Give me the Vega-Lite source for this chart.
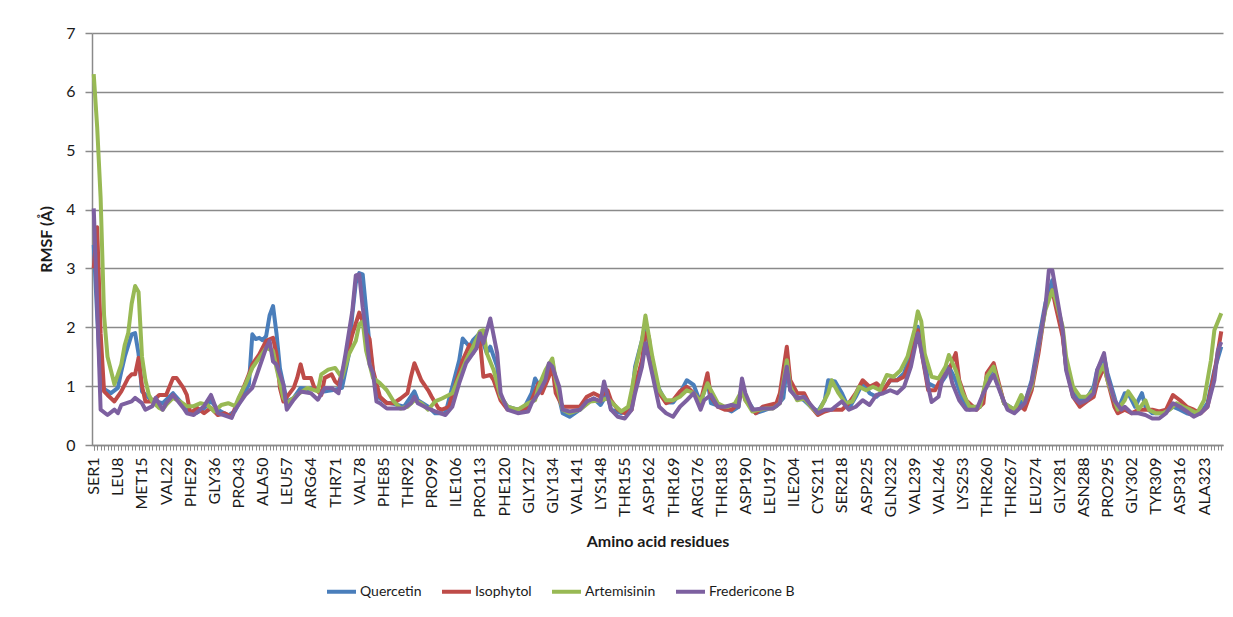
{
  "$schema": "https://vega.github.io/schema/vega-lite/v6.json",
  "width": 1131,
  "height": 412,
  "autosize": "none",
  "padding": {"left": 92, "top": 33, "right": 10, "bottom": 172},
  "background": "white",
  "config": {
    "view": {"stroke": null},
    "font": "Lato",
    "axis": {"labelFont": "Lato", "titleFont": "Lato", "labelColor": "#1a1a1a", "titleColor": "#1a1a1a"}
  },
  "encoding": {
    "y": {
      "field": "v",
      "type": "quantitative",
      "scale": {"domain": [0, 7], "nice": false, "zero": true},
      "axis": {
        "title": "RMSF (Å)",
        "titleFontSize": 16,
        "titleFontWeight": "bold",
        "titleX": -46,
        "titleBaseline": "middle",
        "values": [0, 1, 2, 3, 4, 5, 6, 7],
        "labelFontSize": 16,
        "labelPadding": 10,
        "tickSize": 7,
        "tickColor": "#8a8a8a",
        "tickWidth": 1.5,
        "domainColor": "#8a8a8a",
        "domainWidth": 1.5,
        "grid": true,
        "gridColor": "#8a8a8a",
        "gridWidth": 1.5
      }
    }
  },
  "layer": [
    {
      "data": {"values": [
        {"r":1,"v":3.4},{"r":2,"v":2.2},{"r":3,"v":1.1},{"r":4,"v":0.95},{"r":6,"v":0.88},{"r":8,"v":0.97},{"r":9,"v":1.25},{"r":10,"v":1.5},{"r":12,"v":1.88},{"r":13,"v":1.9},{"r":14,"v":1.55},{"r":15,"v":0.91},{"r":17,"v":0.8},{"r":19,"v":0.74},{"r":21,"v":0.71},{"r":24,"v":0.88},{"r":27,"v":0.68},{"r":29,"v":0.55},{"r":31,"v":0.55},{"r":33,"v":0.62},{"r":35,"v":0.75},{"r":37,"v":0.6},{"r":40,"v":0.5},{"r":42,"v":0.58},{"r":44,"v":0.8},{"r":46,"v":1.03},{"r":47,"v":1.88},{"r":48,"v":1.8},{"r":49,"v":1.82},{"r":50,"v":1.78},{"r":51,"v":1.85},{"r":52,"v":2.2},{"r":53,"v":2.36},{"r":54,"v":1.9},{"r":55,"v":1.3},{"r":56,"v":1.03},{"r":57,"v":0.74},{"r":59,"v":0.8},{"r":61,"v":0.97},{"r":63,"v":0.95},{"r":65,"v":0.97},{"r":67,"v":0.9},{"r":69,"v":0.92},{"r":71,"v":0.94},{"r":73,"v":0.97},{"r":75,"v":1.54},{"r":76,"v":2.22},{"r":77,"v":2.75},{"r":78,"v":2.92},{"r":79,"v":2.9},{"r":80,"v":2.3},{"r":81,"v":1.7},{"r":82,"v":1.22},{"r":84,"v":0.79},{"r":86,"v":0.72},{"r":88,"v":0.7},{"r":91,"v":0.65},{"r":94,"v":0.91},{"r":95,"v":0.76},{"r":98,"v":0.65},{"r":100,"v":0.54},{"r":103,"v":0.54},{"r":105,"v":0.99},{"r":107,"v":1.44},{"r":108,"v":1.81},{"r":110,"v":1.67},{"r":111,"v":1.78},{"r":113,"v":1.9},{"r":115,"v":1.56},{"r":116,"v":1.67},{"r":118,"v":1.33},{"r":119,"v":0.82},{"r":121,"v":0.65},{"r":124,"v":0.6},{"r":126,"v":0.65},{"r":128,"v":0.88},{"r":129,"v":1.13},{"r":131,"v":0.93},{"r":132,"v":1.22},{"r":134,"v":1.42},{"r":135,"v":1.05},{"r":137,"v":0.54},{"r":139,"v":0.48},{"r":142,"v":0.6},{"r":144,"v":0.71},{"r":146,"v":0.79},{"r":148,"v":0.68},{"r":150,"v":0.88},{"r":151,"v":0.6},{"r":154,"v":0.54},{"r":156,"v":0.6},{"r":157,"v":0.76},{"r":158,"v":1.33},{"r":160,"v":1.78},{"r":161,"v":2.07},{"r":162,"v":1.7},{"r":163,"v":1.3},{"r":165,"v":0.95},{"r":167,"v":0.72},{"r":169,"v":0.72},{"r":171,"v":0.88},{"r":173,"v":1.1},{"r":175,"v":1.02},{"r":177,"v":0.71},{"r":179,"v":1.1},{"r":180,"v":0.71},{"r":183,"v":0.65},{"r":186,"v":0.57},{"r":188,"v":0.65},{"r":189,"v":1.05},{"r":190,"v":0.82},{"r":193,"v":0.54},{"r":196,"v":0.6},{"r":199,"v":0.66},{"r":201,"v":0.8},{"r":202,"v":1.33},{"r":203,"v":0.93},{"r":205,"v":0.82},{"r":207,"v":0.76},{"r":209,"v":0.65},{"r":211,"v":0.57},{"r":213,"v":0.76},{"r":214,"v":1.1},{"r":216,"v":1.08},{"r":218,"v":0.88},{"r":220,"v":0.62},{"r":222,"v":0.82},{"r":224,"v":1.05},{"r":226,"v":0.88},{"r":228,"v":0.82},{"r":230,"v":0.93},{"r":232,"v":1.1},{"r":234,"v":1.1},{"r":236,"v":1.22},{"r":238,"v":1.56},{"r":240,"v":2.01},{"r":241,"v":1.8},{"r":242,"v":1.5},{"r":243,"v":1.05},{"r":245,"v":0.99},{"r":246,"v":0.99},{"r":248,"v":1.16},{"r":249,"v":1.33},{"r":251,"v":1.1},{"r":253,"v":0.76},{"r":255,"v":0.6},{"r":258,"v":0.65},{"r":260,"v":1.1},{"r":262,"v":1.33},{"r":263,"v":1.1},{"r":265,"v":0.71},{"r":268,"v":0.6},{"r":270,"v":0.74},{"r":271,"v":0.71},{"r":273,"v":1.1},{"r":275,"v":1.78},{"r":277,"v":2.41},{"r":279,"v":2.8},{"r":280,"v":2.52},{"r":282,"v":1.9},{"r":283,"v":1.33},{"r":285,"v":0.88},{"r":287,"v":0.76},{"r":289,"v":0.79},{"r":291,"v":0.99},{"r":292,"v":1.27},{"r":294,"v":1.5},{"r":295,"v":1.22},{"r":297,"v":0.82},{"r":298,"v":0.6},{"r":300,"v":0.88},{"r":301,"v":0.88},{"r":303,"v":0.65},{"r":305,"v":0.88},{"r":306,"v":0.65},{"r":308,"v":0.54},{"r":310,"v":0.54},{"r":312,"v":0.57},{"r":314,"v":0.65},{"r":316,"v":0.6},{"r":318,"v":0.54},{"r":320,"v":0.51},{"r":322,"v":0.54},{"r":324,"v":0.71},{"r":326,"v":1.27},{"r":328,"v":1.67}
      ]},
      "mark": {"type": "line", "strokeWidth": 4, "strokeJoin": "round"},
      "encoding": {
        "x": {
          "field": "r", "type": "quantitative",
          "scale": {"domain": [0.5, 328.5], "nice": false, "zero": false},
          "axis": {
            "orient": "bottom",
            "title": "Amino acid residues",
            "titleFontSize": 16,
            "titleFontWeight": "bold",
            "titleY": 88,
            "titleBaseline": "top",
            "values": [1,8,15,22,29,36,43,50,57,64,71,78,85,92,99,106,113,120,127,134,141,148,155,162,169,176,183,190,197,204,211,218,225,232,239,246,253,260,267,274,281,288,295,302,309,316,323],
            "labelExpr": "['SER1','LEU8','MET15','VAL22','PHE29','GLY36','PRO43','ALA50','LEU57','ARG64','THR71','VAL78','PHE85','THR92','PRO99','ILE106','PRO113','PHE120','GLY127','GLY134','VAL141','LYS148','THR155','ASP162','THR169','ARG176','THR183','ASP190','LEU197','ILE204','CYS211','SER218','ASP225','GLN232','VAL239','VAL246','LYS253','THR260','THR267','LEU274','GLY281','ASN288','PRO295','GLY302','TYR309','ASP316','ALA323'][round((datum.value-1)/7)]",
            "labelAngle": 270,
            "labelFontSize": 16,
            "labelPadding": 7,
            "labelOverlap": false,
            "labelFlush": false,
            "tickSize": 5,
            "tickColor": "#8a8a8a",
            "domainColor": "#8a8a8a",
            "domainWidth": 1.5,
            "grid": false
          }
        },
        "color": {
          "datum": "Quercetin", "type": "nominal",
          "scale": {"domain": ["Quercetin", "Isophytol", "Artemisinin", "Fredericone B"], "range": ["#4A7EBB", "#BE4B48", "#98B954", "#7D60A0"]},
          "legend": {
            "title": null,
            "orient": "none",
            "direction": "horizontal",
            "legendX": 233,
            "legendY": 542,
            "symbolType": "stroke",
            "symbolSize": 840,
            "symbolStrokeWidth": 4,
            "labelFont": "Lato",
            "labelFontSize": 14,
            "labelColor": "#1a1a1a",
            "labelOffset": 2,
            "columnPadding": 12
          }
        }
      }
    },
    {
      "data": {"values": [
        {"r":1,"v":3.0},{"r":2,"v":3.7},{"r":3,"v":1.9},{"r":4,"v":0.91},{"r":5,"v":0.85},{"r":7,"v":0.74},{"r":9,"v":0.91},{"r":11,"v":1.14},{"r":12,"v":1.2},{"r":13,"v":1.2},{"r":14,"v":1.48},{"r":15,"v":1.0},{"r":16,"v":0.74},{"r":18,"v":0.74},{"r":20,"v":0.85},{"r":22,"v":0.85},{"r":24,"v":1.14},{"r":25,"v":1.14},{"r":27,"v":0.97},{"r":28,"v":0.85},{"r":29,"v":0.54},{"r":31,"v":0.63},{"r":33,"v":0.54},{"r":35,"v":0.63},{"r":37,"v":0.51},{"r":39,"v":0.54},{"r":41,"v":0.48},{"r":42,"v":0.63},{"r":44,"v":0.91},{"r":46,"v":1.2},{"r":47,"v":1.37},{"r":49,"v":1.54},{"r":51,"v":1.77},{"r":53,"v":1.82},{"r":54,"v":1.54},{"r":55,"v":0.97},{"r":56,"v":0.74},{"r":59,"v":0.97},{"r":60,"v":1.14},{"r":61,"v":1.37},{"r":62,"v":1.14},{"r":64,"v":1.14},{"r":65,"v":0.97},{"r":67,"v":0.85},{"r":68,"v":1.14},{"r":70,"v":1.2},{"r":71,"v":1.08},{"r":72,"v":1.03},{"r":74,"v":1.42},{"r":76,"v":1.88},{"r":78,"v":2.25},{"r":79,"v":2.1},{"r":80,"v":1.9},{"r":81,"v":1.8},{"r":82,"v":1.27},{"r":84,"v":0.82},{"r":86,"v":0.71},{"r":88,"v":0.71},{"r":90,"v":0.79},{"r":92,"v":0.88},{"r":93,"v":1.16},{"r":94,"v":1.39},{"r":96,"v":1.1},{"r":98,"v":0.93},{"r":99,"v":0.82},{"r":101,"v":0.62},{"r":102,"v":0.6},{"r":104,"v":0.65},{"r":106,"v":1.05},{"r":108,"v":1.44},{"r":110,"v":1.7},{"r":111,"v":1.56},{"r":113,"v":1.78},{"r":114,"v":1.16},{"r":116,"v":1.19},{"r":117,"v":1.1},{"r":119,"v":0.76},{"r":121,"v":0.6},{"r":124,"v":0.6},{"r":127,"v":0.62},{"r":128,"v":0.76},{"r":130,"v":1.05},{"r":131,"v":0.88},{"r":133,"v":1.16},{"r":134,"v":1.33},{"r":135,"v":0.88},{"r":137,"v":0.65},{"r":140,"v":0.65},{"r":142,"v":0.65},{"r":144,"v":0.82},{"r":146,"v":0.88},{"r":148,"v":0.82},{"r":150,"v":0.93},{"r":151,"v":0.76},{"r":153,"v":0.6},{"r":155,"v":0.54},{"r":157,"v":0.6},{"r":158,"v":0.99},{"r":160,"v":1.44},{"r":161,"v":1.9},{"r":162,"v":1.84},{"r":163,"v":1.27},{"r":165,"v":0.88},{"r":167,"v":0.71},{"r":169,"v":0.76},{"r":171,"v":0.91},{"r":173,"v":0.99},{"r":175,"v":0.88},{"r":177,"v":0.74},{"r":179,"v":1.22},{"r":180,"v":0.82},{"r":182,"v":0.65},{"r":184,"v":0.6},{"r":186,"v":0.6},{"r":188,"v":0.71},{"r":189,"v":0.99},{"r":190,"v":0.76},{"r":193,"v":0.54},{"r":195,"v":0.65},{"r":197,"v":0.68},{"r":199,"v":0.71},{"r":200,"v":0.88},{"r":202,"v":1.67},{"r":203,"v":1.1},{"r":205,"v":0.88},{"r":207,"v":0.88},{"r":209,"v":0.65},{"r":211,"v":0.51},{"r":213,"v":0.57},{"r":215,"v":0.6},{"r":216,"v":0.6},{"r":218,"v":0.6},{"r":220,"v":0.71},{"r":222,"v":0.88},{"r":224,"v":1.1},{"r":226,"v":0.99},{"r":228,"v":1.05},{"r":230,"v":0.93},{"r":232,"v":1.1},{"r":234,"v":1.1},{"r":236,"v":1.16},{"r":238,"v":1.44},{"r":240,"v":1.95},{"r":242,"v":1.27},{"r":243,"v":0.93},{"r":245,"v":0.93},{"r":247,"v":1.16},{"r":249,"v":1.27},{"r":251,"v":1.56},{"r":252,"v":1.1},{"r":254,"v":0.76},{"r":257,"v":0.6},{"r":259,"v":0.71},{"r":260,"v":1.22},{"r":262,"v":1.39},{"r":263,"v":1.16},{"r":265,"v":0.71},{"r":268,"v":0.57},{"r":270,"v":0.65},{"r":271,"v":0.6},{"r":273,"v":0.93},{"r":275,"v":1.56},{"r":277,"v":2.35},{"r":279,"v":2.63},{"r":280,"v":2.35},{"r":282,"v":1.84},{"r":283,"v":1.33},{"r":285,"v":0.82},{"r":287,"v":0.65},{"r":289,"v":0.74},{"r":291,"v":0.82},{"r":292,"v":1.05},{"r":294,"v":1.33},{"r":295,"v":1.1},{"r":297,"v":0.65},{"r":298,"v":0.54},{"r":300,"v":0.6},{"r":302,"v":0.54},{"r":304,"v":0.6},{"r":306,"v":0.6},{"r":308,"v":0.6},{"r":310,"v":0.57},{"r":312,"v":0.6},{"r":314,"v":0.85},{"r":316,"v":0.76},{"r":318,"v":0.65},{"r":320,"v":0.6},{"r":322,"v":0.54},{"r":324,"v":0.65},{"r":326,"v":1.22},{"r":328,"v":1.93}
      ]},
      "mark": {"type": "line", "strokeWidth": 4, "strokeJoin": "round"},
      "encoding": {
        "x": {
          "field": "r", "type": "quantitative",
          "scale": {"domain": [0.5, 328.5], "nice": false, "zero": false},
          "axis": {
            "orient": "bottom",
            "title": null,
            "labels": false,
            "domain": false,
            "grid": false,
            "tickCount": 330,
            "tickSize": 5,
            "tickColor": "#8a8a8a"
          }
        },
        "color": {"datum": "Isophytol", "type": "nominal"}
      }
    },
    {
      "data": {"values": [
        {"r":1,"v":6.3},{"r":2,"v":5.4},{"r":3,"v":4.2},{"r":4,"v":2.2},{"r":5,"v":1.5},{"r":7,"v":1.03},{"r":8,"v":1.2},{"r":9,"v":1.37},{"r":10,"v":1.7},{"r":11,"v":1.9},{"r":12,"v":2.4},{"r":13,"v":2.7},{"r":14,"v":2.6},{"r":15,"v":1.5},{"r":16,"v":1.1},{"r":17,"v":0.85},{"r":18,"v":0.74},{"r":20,"v":0.63},{"r":21,"v":0.6},{"r":22,"v":0.68},{"r":24,"v":0.8},{"r":26,"v":0.74},{"r":28,"v":0.66},{"r":30,"v":0.66},{"r":32,"v":0.71},{"r":34,"v":0.68},{"r":36,"v":0.57},{"r":38,"v":0.68},{"r":40,"v":0.71},{"r":42,"v":0.66},{"r":43,"v":0.8},{"r":45,"v":1.03},{"r":47,"v":1.31},{"r":49,"v":1.48},{"r":51,"v":1.65},{"r":53,"v":1.6},{"r":54,"v":1.31},{"r":56,"v":0.8},{"r":57,"v":0.71},{"r":60,"v":0.85},{"r":63,"v":0.97},{"r":66,"v":0.91},{"r":67,"v":1.2},{"r":69,"v":1.28},{"r":71,"v":1.31},{"r":73,"v":1.14},{"r":75,"v":1.54},{"r":77,"v":1.77},{"r":78,"v":2.05},{"r":79,"v":2.1},{"r":80,"v":1.6},{"r":82,"v":1.14},{"r":84,"v":1.05},{"r":86,"v":0.93},{"r":88,"v":0.74},{"r":90,"v":0.62},{"r":92,"v":0.65},{"r":94,"v":0.76},{"r":96,"v":0.71},{"r":98,"v":0.6},{"r":100,"v":0.74},{"r":102,"v":0.79},{"r":105,"v":0.88},{"r":107,"v":1.16},{"r":109,"v":1.44},{"r":111,"v":1.67},{"r":113,"v":1.93},{"r":114,"v":1.95},{"r":115,"v":1.56},{"r":117,"v":1.27},{"r":119,"v":0.82},{"r":121,"v":0.65},{"r":124,"v":0.6},{"r":127,"v":0.71},{"r":129,"v":0.76},{"r":130,"v":0.99},{"r":132,"v":1.27},{"r":134,"v":1.47},{"r":135,"v":1.1},{"r":137,"v":0.6},{"r":139,"v":0.54},{"r":142,"v":0.6},{"r":145,"v":0.74},{"r":148,"v":0.76},{"r":150,"v":0.79},{"r":152,"v":0.68},{"r":154,"v":0.57},{"r":156,"v":0.65},{"r":157,"v":0.93},{"r":158,"v":1.27},{"r":160,"v":1.78},{"r":161,"v":2.2},{"r":163,"v":1.5},{"r":165,"v":0.93},{"r":167,"v":0.76},{"r":169,"v":0.76},{"r":171,"v":0.82},{"r":173,"v":0.93},{"r":175,"v":0.88},{"r":177,"v":0.74},{"r":179,"v":1.05},{"r":180,"v":0.93},{"r":182,"v":0.71},{"r":184,"v":0.65},{"r":185,"v":0.65},{"r":187,"v":0.71},{"r":189,"v":0.93},{"r":190,"v":0.76},{"r":192,"v":0.57},{"r":194,"v":0.6},{"r":196,"v":0.62},{"r":198,"v":0.62},{"r":200,"v":0.71},{"r":202,"v":1.44},{"r":203,"v":0.99},{"r":205,"v":0.76},{"r":207,"v":0.79},{"r":209,"v":0.65},{"r":211,"v":0.54},{"r":212,"v":0.65},{"r":214,"v":0.88},{"r":215,"v":1.1},{"r":217,"v":0.88},{"r":219,"v":0.71},{"r":221,"v":0.74},{"r":223,"v":0.99},{"r":225,"v":0.93},{"r":227,"v":0.99},{"r":229,"v":0.93},{"r":231,"v":1.19},{"r":233,"v":1.16},{"r":235,"v":1.27},{"r":237,"v":1.5},{"r":239,"v":1.95},{"r":240,"v":2.27},{"r":241,"v":2.1},{"r":242,"v":1.55},{"r":244,"v":1.16},{"r":246,"v":1.13},{"r":248,"v":1.33},{"r":249,"v":1.53},{"r":251,"v":1.27},{"r":253,"v":0.88},{"r":255,"v":0.65},{"r":258,"v":0.65},{"r":260,"v":1.16},{"r":262,"v":1.33},{"r":263,"v":1.1},{"r":265,"v":0.71},{"r":268,"v":0.6},{"r":270,"v":0.85},{"r":271,"v":0.74},{"r":273,"v":0.99},{"r":275,"v":1.67},{"r":277,"v":2.29},{"r":279,"v":2.63},{"r":280,"v":2.46},{"r":282,"v":2.01},{"r":283,"v":1.5},{"r":285,"v":0.99},{"r":287,"v":0.82},{"r":289,"v":0.82},{"r":291,"v":0.93},{"r":292,"v":1.16},{"r":294,"v":1.36},{"r":295,"v":1.1},{"r":297,"v":0.76},{"r":298,"v":0.6},{"r":300,"v":0.76},{"r":301,"v":0.91},{"r":303,"v":0.74},{"r":304,"v":0.6},{"r":306,"v":0.76},{"r":307,"v":0.6},{"r":309,"v":0.54},{"r":311,"v":0.54},{"r":313,"v":0.6},{"r":315,"v":0.71},{"r":317,"v":0.65},{"r":319,"v":0.6},{"r":321,"v":0.54},{"r":323,"v":0.76},{"r":325,"v":1.44},{"r":326,"v":1.95},{"r":328,"v":2.24}
      ]},
      "mark": {"type": "line", "strokeWidth": 4, "strokeJoin": "round"},
      "encoding": {
        "x": {"field": "r", "type": "quantitative", "scale": {"domain": [0.5, 328.5], "nice": false, "zero": false}, "axis": null},
        "color": {"datum": "Artemisinin", "type": "nominal"}
      }
    },
    {
      "data": {"values": [
        {"r":1,"v":4.02},{"r":2,"v":2.4},{"r":3,"v":0.6},{"r":5,"v":0.51},{"r":7,"v":0.6},{"r":8,"v":0.54},{"r":9,"v":0.68},{"r":12,"v":0.74},{"r":13,"v":0.8},{"r":15,"v":0.71},{"r":16,"v":0.6},{"r":18,"v":0.66},{"r":19,"v":0.8},{"r":21,"v":0.6},{"r":22,"v":0.71},{"r":24,"v":0.85},{"r":27,"v":0.63},{"r":28,"v":0.54},{"r":30,"v":0.51},{"r":33,"v":0.66},{"r":35,"v":0.85},{"r":37,"v":0.54},{"r":41,"v":0.46},{"r":42,"v":0.6},{"r":45,"v":0.85},{"r":47,"v":0.97},{"r":49,"v":1.31},{"r":51,"v":1.65},{"r":52,"v":1.77},{"r":53,"v":1.42},{"r":54,"v":1.37},{"r":56,"v":1.03},{"r":57,"v":0.6},{"r":59,"v":0.77},{"r":61,"v":0.91},{"r":64,"v":0.88},{"r":66,"v":0.77},{"r":68,"v":0.97},{"r":70,"v":0.97},{"r":72,"v":0.88},{"r":74,"v":1.54},{"r":76,"v":2.28},{"r":77,"v":2.88},{"r":78,"v":2.9},{"r":79,"v":2.34},{"r":80,"v":1.9},{"r":81,"v":1.37},{"r":82,"v":1.22},{"r":83,"v":0.74},{"r":84,"v":0.71},{"r":86,"v":0.62},{"r":88,"v":0.62},{"r":91,"v":0.62},{"r":93,"v":0.71},{"r":94,"v":0.82},{"r":95,"v":0.71},{"r":98,"v":0.62},{"r":100,"v":0.57},{"r":103,"v":0.51},{"r":105,"v":0.65},{"r":107,"v":1.05},{"r":109,"v":1.39},{"r":112,"v":1.64},{"r":113,"v":1.9},{"r":114,"v":1.73},{"r":116,"v":2.15},{"r":118,"v":1.56},{"r":119,"v":0.88},{"r":121,"v":0.6},{"r":124,"v":0.54},{"r":127,"v":0.57},{"r":128,"v":0.71},{"r":130,"v":0.88},{"r":132,"v":1.1},{"r":133,"v":1.39},{"r":134,"v":1.33},{"r":136,"v":0.99},{"r":137,"v":0.6},{"r":139,"v":0.57},{"r":142,"v":0.6},{"r":144,"v":0.74},{"r":146,"v":0.79},{"r":148,"v":0.74},{"r":149,"v":1.08},{"r":151,"v":0.6},{"r":153,"v":0.48},{"r":155,"v":0.45},{"r":157,"v":0.6},{"r":158,"v":0.88},{"r":160,"v":1.33},{"r":161,"v":1.73},{"r":163,"v":1.2},{"r":165,"v":0.65},{"r":167,"v":0.54},{"r":169,"v":0.48},{"r":171,"v":0.65},{"r":173,"v":0.76},{"r":175,"v":0.88},{"r":177,"v":0.6},{"r":178,"v":0.76},{"r":180,"v":0.85},{"r":182,"v":0.65},{"r":184,"v":0.65},{"r":186,"v":0.68},{"r":188,"v":0.65},{"r":189,"v":1.13},{"r":190,"v":0.88},{"r":192,"v":0.6},{"r":195,"v":0.62},{"r":198,"v":0.62},{"r":200,"v":0.71},{"r":202,"v":1.33},{"r":203,"v":0.93},{"r":205,"v":0.79},{"r":207,"v":0.82},{"r":209,"v":0.68},{"r":211,"v":0.54},{"r":213,"v":0.6},{"r":215,"v":0.6},{"r":216,"v":0.65},{"r":218,"v":0.74},{"r":220,"v":0.6},{"r":222,"v":0.65},{"r":224,"v":0.76},{"r":226,"v":0.68},{"r":228,"v":0.85},{"r":230,"v":0.88},{"r":232,"v":0.93},{"r":234,"v":0.88},{"r":236,"v":0.99},{"r":238,"v":1.33},{"r":240,"v":1.9},{"r":241,"v":1.6},{"r":242,"v":1.3},{"r":243,"v":0.99},{"r":244,"v":0.73},{"r":246,"v":0.82},{"r":247,"v":1.1},{"r":249,"v":1.3},{"r":250,"v":1.05},{"r":252,"v":0.76},{"r":254,"v":0.6},{"r":257,"v":0.6},{"r":259,"v":0.88},{"r":261,"v":1.1},{"r":262,"v":1.19},{"r":264,"v":0.88},{"r":266,"v":0.6},{"r":268,"v":0.54},{"r":270,"v":0.65},{"r":271,"v":0.71},{"r":273,"v":1.05},{"r":275,"v":1.67},{"r":277,"v":2.35},{"r":278,"v":2.97},{"r":279,"v":2.97},{"r":280,"v":2.63},{"r":282,"v":1.95},{"r":283,"v":1.27},{"r":285,"v":0.82},{"r":287,"v":0.71},{"r":289,"v":0.76},{"r":291,"v":0.88},{"r":292,"v":1.27},{"r":294,"v":1.56},{"r":295,"v":1.16},{"r":297,"v":0.76},{"r":299,"v":0.6},{"r":300,"v":0.65},{"r":302,"v":0.54},{"r":304,"v":0.54},{"r":306,"v":0.51},{"r":308,"v":0.45},{"r":310,"v":0.45},{"r":312,"v":0.54},{"r":314,"v":0.71},{"r":316,"v":0.65},{"r":318,"v":0.57},{"r":320,"v":0.48},{"r":322,"v":0.54},{"r":324,"v":0.65},{"r":326,"v":1.1},{"r":327,"v":1.6},{"r":328,"v":1.75}
      ]},
      "mark": {"type": "line", "strokeWidth": 4, "strokeJoin": "round"},
      "encoding": {
        "x": {"field": "r", "type": "quantitative", "scale": {"domain": [0.5, 328.5], "nice": false, "zero": false}, "axis": null},
        "color": {"datum": "Fredericone B", "type": "nominal"}
      }
    }
  ],
  "resolve": {"axis": {"x": "independent"}}
}
